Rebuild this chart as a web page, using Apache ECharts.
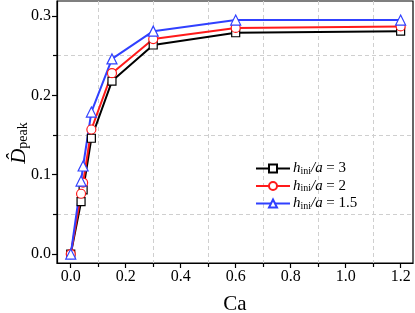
<!DOCTYPE html>
<html>
<head>
<meta charset="utf-8">
<script src="https://cdn.jsdelivr.net/npm/echarts@6/dist/echarts.min.js"></script>
<style>html,body{margin:0;padding:0;background:#fff;}#c{width:415px;height:313px;}</style>
</head>
<body>
<div id="c"></div>
<script>
var caValues = [0, 0.0375, 0.045, 0.075, 0.15, 0.3, 0.6, 1.2];
var seriesH3 = [0, 0.066, 0.081, 0.146, 0.218, 0.2635, 0.279, 0.281];
var seriesH2 = [0, 0.076, 0.090, 0.157, 0.228, 0.271, 0.285, 0.287];
var seriesH15 = [0, 0.092, 0.111, 0.179, 0.246, 0.281, 0.295, 0.295];
var xMajorTicks = [0, 0.2, 0.4, 0.6, 0.8, 1.0, 1.2];
var xMinorTicks = [0.1, 0.3, 0.5, 0.7, 0.9, 1.1];
var yMajorTicks = [0, 0.1, 0.2, 0.3];
var yMinorTicks = [0.05, 0.15, 0.25];
var legendNames = ['h3', 'h2', 'h15'];
var legendLabels = {h3: '3', h2: '2', h15: '1.5'};

function pairs(xs, ys) { return xs.map(function (x, i) { return [x, ys[i]]; }); }

var FONT = '"Liberation Serif", "DejaVu Serif", serif';
var XMIN = -0.05, XMAX = 1.245, YMIN = -0.0113, YMAX = 0.319;
var dashed = {show: true, lineStyle: {color: '#cfcfcf', type: [4, 3], width: 1}};

var chart = echarts.init(document.getElementById('c'));
function mkSeries(name, data, color, symbol, size) {
  return {
    name: name, type: 'line', data: data, xAxisIndex: 0, yAxisIndex: 0,
    symbol: symbol, symbolSize: size, showAllSymbol: true,
    lineStyle: {color: color, width: 2},
    itemStyle: {color: '#fff', borderColor: color, borderWidth: 1.2},
    emphasis: {disabled: true}, animation: false, z: 3
  };
}
chart.setOption({
  animation: false,
  grid: {left: 57, top: 1, right: 2, bottom: 50, containLabel: false, outerBoundsMode: 'none',
    show: true, borderColor: '#000', borderWidth: 1.2, backgroundColor: 'transparent'},
  legend: {
    left: 250, top: 155, orient: 'vertical', itemWidth: 34, itemHeight: 10, itemGap: 1.5,
    data: legendNames,
    formatter: function (n) { return '{i|h}{s|ini}{i|/a} {t|= ' + legendLabels[n] + '}'; },
    textStyle: {
      fontFamily: FONT, fontSize: 14, color: '#000', padding: [0, 0, 0, -2],
      rich: {
        i: {fontFamily: FONT, fontStyle: 'italic', fontSize: 15, color: '#000', lineHeight: 15},
        s: {fontFamily: FONT, fontSize: 10, color: '#000', verticalAlign: 'bottom', padding: [6, 0, 0, 0], lineHeight: 15},
        t: {fontFamily: FONT, fontSize: 15, color: '#000', lineHeight: 15}
      }
    }
  },
  xAxis: [{
    type: 'value', min: XMIN, max: XMAX, position: 'bottom',
    name: 'Ca', nameLocation: 'middle', nameGap: 31, nameMoveOverlap: false,
    nameTextStyle: {fontFamily: FONT, fontSize: 21, color: '#000'},
    axisLine: {show: true, onZero: false, lineStyle: {color: '#000', width: 1.2}},
    axisTick: {show: true, inside: false, length: 5, customValues: xMajorTicks, lineStyle: {color: '#000', width: 1.2}},
    axisLabel: {customValues: xMajorTicks, fontFamily: FONT, fontSize: 16, color: '#000', margin: 6,
      formatter: function (v) { return v.toFixed(1); }},
    splitLine: {show: false}
  }, {
    type: 'value', min: XMIN, max: XMAX, position: 'bottom',
    axisLine: {show: false, onZero: false},
    axisTick: {show: true, inside: false, length: 4, customValues: xMinorTicks, lineStyle: {color: '#000', width: 1.2}},
    axisLabel: {show: false, customValues: xMinorTicks},
    splitLine: dashed
  }],
  yAxis: [{
    type: 'value', min: YMIN, max: YMAX, position: 'left',
    name: '{d|D\u0302}{s|peak}', nameLocation: 'middle', nameGap: 27, nameMoveOverlap: false,
    nameTextStyle: {fontFamily: FONT, color: '#000', padding: [0, 22, 0, 0],
      rich: {
        d: {fontFamily: FONT, fontStyle: 'italic', fontSize: 21, color: '#000'},
        s: {fontFamily: FONT, fontSize: 14, color: '#000', verticalAlign: 'bottom', padding: [8, 0, 0, 0]}
      }},
    axisLine: {show: true, onZero: false, lineStyle: {color: '#000', width: 1.2}},
    axisTick: {show: true, inside: false, length: 5, customValues: yMajorTicks, lineStyle: {color: '#000', width: 1.2}},
    axisLabel: {customValues: yMajorTicks, fontFamily: FONT, fontSize: 16, color: '#000', margin: 6,
      formatter: function (v) { return v.toFixed(1); }},
    splitLine: {show: false}
  }, {
    type: 'value', min: YMIN, max: YMAX, position: 'left',
    axisLine: {show: false, onZero: false},
    axisTick: {show: true, inside: false, length: 4, customValues: yMinorTicks, lineStyle: {color: '#000', width: 1.2}},
    axisLabel: {show: false, customValues: yMinorTicks},
    splitLine: dashed
  }],
  series: [
    mkSeries('h3', pairs(caValues, seriesH3), '#000000', 'rect', 8),
    mkSeries('h2', pairs(caValues, seriesH2), '#ff1a1a', 'circle', 9),
    mkSeries('h15', pairs(caValues, seriesH15), '#3040ff', 'triangle', 10)
  ]
});
</script>
</body>
</html>
